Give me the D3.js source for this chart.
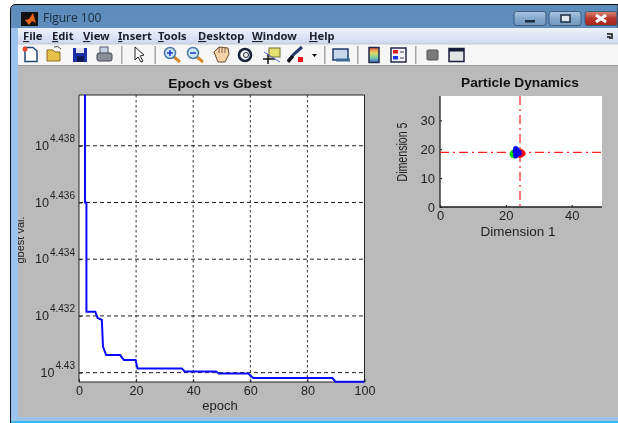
<!DOCTYPE html>
<html>
<head>
<meta charset="utf-8">
<script src="https://cdn.jsdelivr.net/npm/d3@7"></script>
<style>
html, body { margin: 0; padding: 0; background: #fff; overflow: hidden; }
svg { display: block; filter: blur(0.35px); font-family: "Liberation Sans", Arial, sans-serif; }
</style>
</head>
<body>
<svg id="fig" width="618" height="423"></svg>
<script>
// Epoch vs Gbest: stepped curve, values are log10(gbest)
const epochs = [2.1, 2.1, 2.6, 2.6, 5.7, 6.5, 8, 8.4, 9.5, 14.4, 15.7, 19.8, 20.5, 36, 37, 48, 49, 59.3, 61, 88.8, 89.8, 100];
const gbestExp = [4.4398, 4.436, 4.436, 4.43215, 4.43215, 4.43193, 4.43186, 4.43092, 4.43062, 4.43062, 4.43045, 4.43045, 4.43015, 4.43015, 4.43004, 4.43004, 4.42997, 4.42997, 4.42981, 4.42981, 4.42968, 4.42968];
const epochTicks = [0, 20, 40, 60, 80, 100];
const expTicks = ["4.43", "4.432", "4.434", "4.436", "4.438"];

// Particle Dynamics: swarm in dimension 1 / dimension 5
const redDim1 = [24.6, 25.0, 24.8, 24.3, 25.2];
const redDim5 = [19.2, 18.8, 18.2, 17.9, 18.5];
const greenDim1 = [21.9, 22.3, 22.4, 22.6, 22.1];
const greenDim5 = [18.4, 19.0, 17.7, 18.6, 17.9];
const blueDim1 = [23.0, 23.4, 22.8, 23.6, 23.2, 24.0, 23.0, 24.0];
const blueDim5 = [20.2, 19.8, 19.2, 18.8, 18.2, 19.0, 17.7, 18.5];
const gbestDim1 = 24.3;
const gbestDim5 = 18.9;
const dim1Ticks = [0, 20, 40];
const dim5Ticks = [0, 10, 20, 30];

const menuItems = ["File", "Edit", "View", "Insert", "Tools", "Desktop", "Window", "Help"];

const svg = d3.select("#fig");
const defs = svg.append("defs");

function gradient(id, stops) {
    const g = defs.append("linearGradient").attr("id", id)
        .attr("x1", 0).attr("y1", 0).attr("x2", 0).attr("y2", 1);
    stops.forEach(s => g.append("stop").attr("offset", s[0]).attr("stop-color", s[1]));
}
gradient("titleGrad", [[0, "#5d8cbc"], [0.5, "#6f9dcb"], [1, "#a3c3e3"]]);
gradient("menuGrad", [[0, "#eef2fb"], [1, "#cdd7ee"]]);
gradient("btnGrad", [[0, "#a9c6e2"], [0.5, "#86a9cc"], [1, "#6f97bf"]]);
gradient("closeGrad", [[0, "#d98a78"], [0.5, "#b8362a"], [1, "#a8241c"]]);
gradient("barGrad", [[0, "#e2554a"], [0.35, "#e8d860"], [0.65, "#7fd0a0"], [1, "#3a6fd8"]]);
defs.append("clipPath").attr("id", "figClip")
    .append("rect").attr("x", 18).attr("y", 66).attr("width", 600).attr("height", 351);

function drawWindow() {
    // outer frame
    svg.append("path")
        .attr("d", "M10.5,423 V10 Q10.5,4.5 16,4.5 H618 V423 Z")
        .attr("fill", "url(#titleGrad)").attr("stroke", "#111").attr("stroke-width", 1);
    svg.append("rect").attr("x", 11).attr("y", 28).attr("width", 7).attr("height", 395).attr("fill", "#9cc4ee");
    svg.append("rect").attr("x", 18).attr("y", 28).attr("width", 600).attr("height", 16).attr("fill", "url(#menuGrad)");
    svg.append("rect").attr("x", 18).attr("y", 44).attr("width", 600).attr("height", 21).attr("fill", "#f6f6f6");
    svg.append("rect").attr("x", 18).attr("y", 43.5).attr("width", 600).attr("height", 1).attr("fill", "#c4c8d0");
    svg.append("rect").attr("x", 18).attr("y", 65).attr("width", 600).attr("height", 1.5).attr("fill", "#9a9a9a");
    svg.append("rect").attr("x", 18).attr("y", 66).attr("width", 600).attr("height", 351).attr("fill", "#bababa");
    svg.append("rect").attr("x", 11).attr("y", 417).attr("width", 607).attr("height", 4).attr("fill", "#9cc4ee");
    svg.append("rect").attr("x", 11).attr("y", 421).attr("width", 607).attr("height", 2).attr("fill", "#3cb8ea");

    // title bar
    svg.append("rect").attr("x", 21).attr("y", 12).attr("width", 17).attr("height", 14).attr("fill", "#111");
    svg.append("path").attr("d", "M25,20 L29,19 L33,13 L36,23 L32,21 L29,25 Z").attr("fill", "#e8641a");
    svg.append("text").attr("x", 43).attr("y", 22).attr("font-size", 12).attr("fill", "#1a2a3a")
        .style("font-family", "'Open Sans', sans-serif").text("Figure 100");

    [[514, "url(#btnGrad)"], [549, "url(#btnGrad)"], [585, "url(#closeGrad)"]].forEach(b => {
        svg.append("rect").attr("x", b[0]).attr("y", 11.5).attr("width", 32).attr("height", 14).attr("rx", 2.5)
            .attr("fill", b[1]).attr("stroke", "#3c5a7a");
    });
    svg.append("rect").attr("x", 525).attr("y", 20).attr("width", 10).attr("height", 2.5).attr("fill", "#1d2d40");
    svg.append("rect").attr("x", 561).attr("y", 15).attr("width", 9).attr("height", 7).attr("fill", "#dfe8f2").attr("stroke", "#1d2d40").attr("stroke-width", 1.5);
    svg.append("path").attr("d", "M596,15 L606,22 M606,15 L596,22").attr("stroke", "#fff").attr("stroke-width", 3);

    // menu bar
    const menuX = [23, 52, 83, 118, 158, 198, 252, 309];
    menuItems.forEach((m, i) => {
        const t = svg.append("text").attr("x", menuX[i]).attr("y", 40)
            .attr("font-size", 11.2).attr("font-weight", "bold").attr("fill", "#20202c")
            .style("font-family", "'Noto Sans', sans-serif");
        t.append("tspan").attr("text-decoration", "underline").text(m[0]);
        t.append("tspan").text(m.slice(1));
    });
    svg.append("path").attr("d", "M607,34 L612,34 L612,39 M607,37 L610,37 L610,39").attr("stroke", "#111").attr("stroke-width", 1.5).attr("fill", "none");
}

function drawToolbar() {
    const g = svg.append("g");
    [121, 154.5, 324, 357, 415].forEach(x => {
        g.append("rect").attr("x", x).attr("y", 46).attr("width", 1.5).attr("height", 18).attr("fill", "#a8a8a8");
    });
    // new
    g.append("path").attr("d", "M25,47.5 H33 L37,51 V61.5 H25 Z").attr("fill", "#fff").attr("stroke", "#234a7a").attr("stroke-width", 1.5);
    g.append("circle").attr("cx", 25).attr("cy", 49).attr("r", 2.5).attr("fill", "#e8452a");
    // open
    g.append("path").attr("d", "M47,50 H53 L55,52 H60 V61 H47 Z").attr("fill", "#e6c04a").attr("stroke", "#8a6a20");
    g.append("path").attr("d", "M54,47 Q58,45 61,49").attr("stroke", "#444").attr("fill", "none");
    // save
    g.append("rect").attr("x", 73).attr("y", 48).attr("width", 14).attr("height", 14).attr("fill", "#1c2fa8");
    g.append("rect").attr("x", 76).attr("y", 48).attr("width", 8).attr("height", 5).attr("fill", "#dfe4f5");
    g.append("rect").attr("x", 77).attr("y", 56).attr("width", 7).attr("height", 6).attr("fill", "#10185a");
    // print
    g.append("rect").attr("x", 100).attr("y", 47).attr("width", 8).attr("height", 7).attr("fill", "#c8d4e4").attr("stroke", "#556");
    g.append("rect").attr("x", 97).attr("y", 53).attr("width", 15).attr("height", 8).attr("rx", 2).attr("fill", "#8a8f98").attr("stroke", "#445");
    // arrow
    g.append("path").attr("d", "M135,47 L135,60 L138,57 L141,62 L143,61 L140,56 L144,55 Z").attr("fill", "#fff").attr("stroke", "#222");
    // zoom in / out
    [[170, "#1a3ad0", true], [193, "#1a3ad0", false]].forEach(z => {
        g.append("line").attr("x1", z[0] + 4).attr("y1", 57).attr("x2", z[0] + 10).attr("y2", 62).attr("stroke", "#d88a2a").attr("stroke-width", 3);
        g.append("circle").attr("cx", z[0]).attr("cy", 53).attr("r", 5.5).attr("fill", "#cfe8f8").attr("stroke", "#4a7aa8").attr("stroke-width", 1.5);
        g.append("path").attr("d", `M${z[0] - 3},53 H${z[0] + 3}` + (z[2] ? `M${z[0]},50 V56` : "")).attr("stroke", z[1]).attr("stroke-width", 1.5);
    });
    // hand
    g.append("path").attr("d", "M214,52 L219,47 L228,48 L229,54 L225,62 L218,62 Z").attr("fill", "#f6d2a8").attr("stroke", "#6a4a30");
    g.append("path").attr("d", "M219,47 V53 M222,47 V53 M225,48 V53").attr("stroke", "#6a4a30").attr("stroke-width", 0.8);
    // rotate
    g.append("circle").attr("cx", 245).attr("cy", 55).attr("r", 6).attr("fill", "none").attr("stroke", "#16223a").attr("stroke-width", 2.6);
    g.append("circle").attr("cx", 246).attr("cy", 55).attr("r", 2.5).attr("fill", "none").attr("stroke", "#16223a");
    // data cursor
    g.append("rect").attr("x", 269).attr("y", 48).attr("width", 11).attr("height", 9).attr("fill", "#e8e070").attr("stroke", "#6a6a30");
    g.append("path").attr("d", "M263,59 H275 M268,54 V64").attr("stroke", "#111").attr("stroke-width", 1.5);
    g.append("path").attr("d", "M264,52 L280,62").attr("stroke", "#5a6ad8");
    // brush
    g.append("path").attr("d", "M288,61 L294,54 L302,47").attr("stroke", "#223a6a").attr("stroke-width", 3);
    g.append("path").attr("d", "M288,62 L293,56").attr("stroke", "#111").attr("stroke-width", 3);
    g.append("rect").attr("x", 298).attr("y", 57).attr("width", 5).attr("height", 5).attr("fill", "#ee1111");
    g.append("path").attr("d", "M312,54 H317 L314.5,57 Z").attr("fill", "#111");
    // link
    g.append("rect").attr("x", 333).attr("y", 49).attr("width", 15).attr("height", 11).attr("fill", "#c8d8ea").attr("stroke", "#1c3a6a").attr("stroke-width", 1.5);
    g.append("path").attr("d", "M336,60 H350").attr("stroke", "#3a6a9a").attr("stroke-width", 3);
    // colorbar
    g.append("rect").attr("x", 369).attr("y", 47.5).attr("width", 10).attr("height", 15).attr("fill", "url(#barGrad)").attr("stroke", "#222a4a").attr("stroke-width", 1.5);
    // legend
    g.append("rect").attr("x", 391).attr("y", 48).attr("width", 15).attr("height", 14).attr("fill", "#f4f4f8").attr("stroke", "#222a4a").attr("stroke-width", 1.5);
    g.append("rect").attr("x", 393).attr("y", 50).attr("width", 5).attr("height", 3.5).attr("fill", "#e81818");
    g.append("rect").attr("x", 393).attr("y", 56).attr("width", 5).attr("height", 3.5).attr("fill", "#1838e8");
    g.append("path").attr("d", "M400,52 H404 M400,58 H404").attr("stroke", "#445");
    // hide / show tools
    g.append("rect").attr("x", 427).attr("y", 50).attr("width", 11).attr("height", 10).attr("rx", 1).attr("fill", "#7a7a7a").attr("stroke", "#555");
    g.append("rect").attr("x", 449).attr("y", 48.5).attr("width", 15).attr("height", 13).attr("fill", "#e4e4e4").attr("stroke", "#161c3a").attr("stroke-width", 1.5);
    g.append("rect").attr("x", 449).attr("y", 48.5).attr("width", 15).attr("height", 3).attr("fill", "#161c3a");
}

function styleAxis(ax, size, color) {
    ax.selectAll("text").attr("font-size", size).attr("fill", "#222")
        .style("font-family", "'Liberation Sans', Arial, sans-serif");
    ax.selectAll("line").attr("stroke", color);
    ax.select(".domain").remove();
}

function drawLeft() {
    const x = d3.scaleLinear().domain([0, 100]).range([79, 364.5]);
    const y = d3.scaleLog().domain([Math.pow(10, 4.42967), Math.pow(10, 4.43979)]).range([382, 95]);
    const expValues = expTicks.map(Number);
    const g = svg.append("g");

    g.append("rect").attr("x", 79).attr("y", 95).attr("width", 285.5).attr("height", 287).attr("fill", "#fff");

    // grid
    g.selectAll(".vgrid").data(epochTicks.slice(1, -1)).join("line")
        .attr("x1", d => x(d)).attr("x2", d => x(d)).attr("y1", 95).attr("y2", 382)
        .attr("stroke", "#333").attr("stroke-dasharray", "2.5,2.5").attr("stroke-width", 1);
    g.selectAll(".hgrid").data(expValues).join("line")
        .attr("x1", 79).attr("x2", 364.5).attr("y1", d => y(Math.pow(10, d))).attr("y2", d => y(Math.pow(10, d)))
        .attr("stroke", "#222").attr("stroke-dasharray", "4,3").attr("stroke-width", 1);

    // box
    g.append("path").attr("d", "M79,95 H364.5 V382 H79 Z").attr("fill", "none").attr("stroke", "#222").attr("stroke-width", 1);

    const line = d3.line().x(d => x(d[0])).y(d => y(Math.pow(10, d[1])));
    g.append("path").datum(epochs.map((e, i) => [e, gbestExp[i]]))
        .attr("d", line).attr("fill", "none").attr("stroke", "#0a0aff").attr("stroke-width", 2);

    const xAxis = g.append("g").attr("transform", "translate(0,382)")
        .call(d3.axisBottom(x).tickValues(epochTicks).tickSize(-3).tickPadding(4));
    styleAxis(xAxis, 12.6, "#222");

    const yAxis = g.append("g").attr("transform", "translate(79,0)")
        .call(d3.axisLeft(y).tickValues(expValues.map(d => Math.pow(10, d))).tickSize(-3).tickPadding(4).tickFormat(() => "10"));
    styleAxis(yAxis, 12.6, "#222");
    yAxis.selectAll(".tick text").each(function(d, i) {
        const t = d3.select(this);
        const label = expTicks[i];
        t.attr("x", -30 + (5 - label.length) * 5.5).attr("dy", "0.3em").attr("text-anchor", "end");
        d3.select(this.parentNode).append("text")
            .attr("x", -4).attr("y", -4).attr("text-anchor", "end")
            .attr("font-size", 10).attr("fill", "#222").text(label);
    });

    g.append("text").attr("x", 220).attr("y", 88).attr("text-anchor", "middle")
        .attr("font-size", 13.7).attr("font-weight", "bold").attr("fill", "#111").text("Epoch vs Gbest");
    g.append("text").attr("x", 220).attr("y", 410).attr("text-anchor", "middle")
        .attr("font-size", 13).attr("fill", "#222").text("epoch");
    // the ylabel is cut off by the window edge in the original
    svg.append("g").attr("clip-path", "url(#figClip)")
        .append("text").attr("transform", "translate(24,240) rotate(-90)").attr("text-anchor", "middle")
        .attr("font-size", 11).attr("fill", "#222").text("gbest val.");
}

function drawRight() {
    const x = d3.scaleLinear().domain([0, 49.2]).range([440, 602]);
    const y = d3.scaleLinear().domain([0, 38.4]).range([207, 96]);
    const g = svg.append("g");

    g.append("rect").attr("x", 440).attr("y", 96).attr("width", 162).attr("height", 111).attr("fill", "#fff");

    const xAxis = g.append("g").attr("transform", "translate(0,207)")
        .call(d3.axisBottom(x).tickValues(dim1Ticks).tickSize(-2).tickPadding(3.5));
    styleAxis(xAxis, 13, "#111");
    const yAxis = g.append("g").attr("transform", "translate(440,0)")
        .call(d3.axisLeft(y).tickValues(dim5Ticks).tickSize(-2).tickPadding(5));
    styleAxis(yAxis, 13, "#111");
    g.append("path").attr("d", "M440,96 V207 H602").attr("fill", "none").attr("stroke", "#222").attr("stroke-width", 1.3);

    // gbest crosshair
    g.append("line").attr("x1", 440).attr("x2", 602).attr("y1", y(gbestDim5)).attr("y2", y(gbestDim5))
        .attr("stroke", "#ff2020").attr("stroke-dasharray", "9,4,2,4").attr("stroke-width", 1.2);
    g.append("line").attr("x1", x(gbestDim1)).attr("x2", x(gbestDim1)).attr("y1", 96).attr("y2", 207)
        .attr("stroke", "#ff2020").attr("stroke-dasharray", "9,4,2,4").attr("stroke-width", 1.2);

    const swarms = [[redDim1, redDim5, "#ff0000"], [greenDim1, greenDim5, "#00e000"], [blueDim1, blueDim5, "#0000ff"]];
    swarms.forEach(s => {
        g.append("g").selectAll("circle").data(s[0]).join("circle")
            .attr("cx", d => x(d)).attr("cy", (d, i) => y(s[1][i])).attr("r", 2.6).attr("fill", s[2]);
    });

    g.append("text").attr("x", 520).attr("y", 87).attr("text-anchor", "middle")
        .attr("font-size", 13.7).attr("font-weight", "bold").attr("fill", "#111").text("Particle Dynamics");
    g.append("text").attr("x", 518).attr("y", 236).attr("text-anchor", "middle")
        .attr("font-size", 13.5).attr("fill", "#222").text("Dimension 1");
    g.append("text").attr("transform", "translate(407,152) rotate(-90)").attr("text-anchor", "middle")
        .attr("font-size", 14.5).attr("fill", "#222")
        .attr("textLength", 59).attr("lengthAdjust", "spacingAndGlyphs").text("Dimension 5");
}

drawWindow();
drawToolbar();
drawLeft();
drawRight();
</script>
</body>
</html>
